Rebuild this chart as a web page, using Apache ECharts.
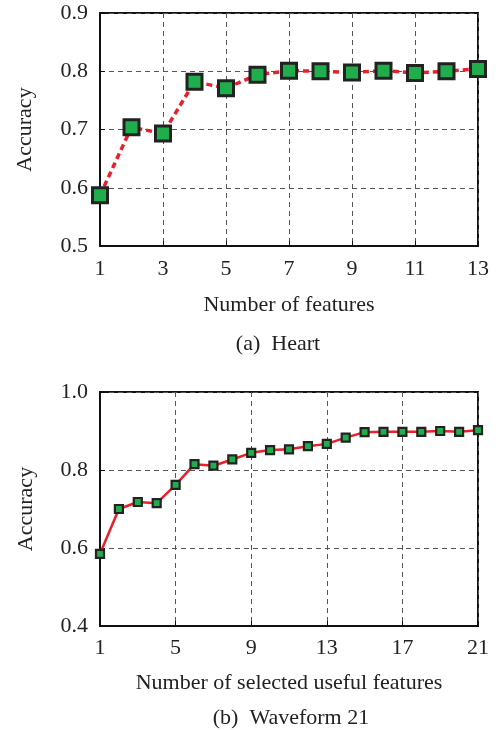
<!DOCTYPE html>
<html><head><meta charset="utf-8">
<script src="https://cdn.jsdelivr.net/npm/echarts@6/dist/echarts.min.js"></script>
<style>html,body{margin:0;padding:0;background:#fff}#c{width:499px;height:730px}</style>
</head><body><div id="c"></div>
<script>
const heartFeatures = ['1','2','3','4','5','6','7','8','9','10','11','12','13'];
const heartAccuracy = [0.587,0.704,0.693,0.782,0.771,0.794,0.801,0.800,0.798,0.801,0.797,0.800,0.804];
const waveFeatures = ['1','2','3','4','5','6','7','8','9','10','11','12','13','14','15','16','17','18','19','20','21'];
const waveAccuracy = [0.585,0.700,0.718,0.715,0.762,0.815,0.811,0.827,0.844,0.851,0.853,0.861,0.867,0.883,0.897,0.898,0.898,0.898,0.900,0.898,0.902];
const heartYTicks = {min:0.5,max:0.9,step:0.1};
const waveYTicks = {min:0.4,max:1.0,step:0.2};
const xNames = ['Number of features','Number of selected useful features'];
const captions = ['(a)  Heart','(b)  Waveform 21'];

const FONT = '"Liberation Serif","Times New Roman",serif';
const TXT = '#222';
const gridLine = {show:true,lineStyle:{color:'#555',type:[5,4],width:1}};
const chart = echarts.init(document.getElementById('c'),null,{renderer:'canvas'});
function xAxis(idx,data,labInt,name,margin,gap){
  return {type:'category',gridIndex:idx,data:data,boundaryGap:false,
    axisLine:{lineStyle:{color:'#111',width:2}},
    axisTick:{show:true,inside:true,length:5,interval:labInt,lineStyle:{color:'#111',width:1}},
    axisLabel:{interval:labInt,margin:margin,color:TXT,fontFamily:FONT,fontSize:22},
    splitLine:Object.assign({interval:labInt},gridLine),
    name:name,nameLocation:'middle',nameGap:gap,
    nameTextStyle:{color:TXT,fontFamily:FONT,fontSize:22}};
}
function yAxis(idx,t,gap){
  return {type:'value',gridIndex:idx,min:t.min,max:t.max,interval:t.step,
    axisLine:{show:true,lineStyle:{color:'#111',width:2}},
    axisTick:{show:true,inside:true,length:5,lineStyle:{color:'#111',width:1}},
    axisLabel:{margin:12,color:TXT,fontFamily:FONT,fontSize:22,formatter:v=>v.toFixed(1)},
    splitLine:gridLine,
    name:'Accuracy',nameLocation:'middle',nameGap:gap,
    nameTextStyle:{color:TXT,fontFamily:FONT,fontSize:22}};
}
chart.setOption({
  animation:false,
  grid:[
    {left:100,right:21,top:13,height:233,show:true,borderColor:'#111',borderWidth:2,backgroundColor:'transparent'},
    {left:100,right:21,top:392,height:234,show:true,borderColor:'#111',borderWidth:2,backgroundColor:'transparent'}
  ],
  xAxis:[xAxis(0,heartFeatures,1,xNames[0],12,48), xAxis(1,waveFeatures,3,xNames[1],11,46)],
  yAxis:[yAxis(0,heartYTicks,64), yAxis(1,waveYTicks,63)],
  series:[
    {type:'line',xAxisIndex:0,yAxisIndex:0,data:heartAccuracy,symbol:'rect',symbolSize:15,
     lineStyle:{color:'#e8202a',width:3.5,type:[6,4]},
     itemStyle:{color:'#1fae4b',borderColor:'#222',borderWidth:3},z:5},
    {type:'line',xAxisIndex:1,yAxisIndex:1,data:waveAccuracy,symbol:'rect',symbolSize:8,
     lineStyle:{color:'#e8202a',width:2.5},
     itemStyle:{color:'#1fae4b',borderColor:'#222',borderWidth:2.2},z:5}
  ],
  graphic:[
    {type:'text',style:{text:captions[0],fill:TXT,font:'22px '+FONT,textAlign:'center',textVerticalAlign:'middle',x:278,y:344}},
    {type:'text',style:{text:captions[1],fill:TXT,font:'22px '+FONT,textAlign:'center',textVerticalAlign:'middle',x:291,y:718}}
  ]
});
</script></body></html>
